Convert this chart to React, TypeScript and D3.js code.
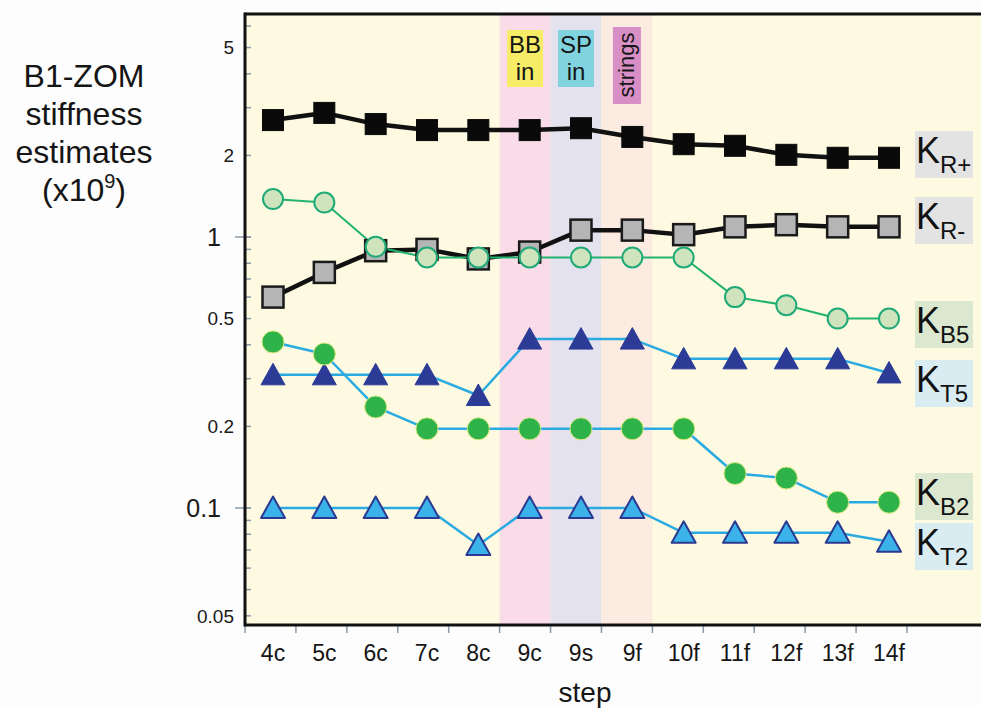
import React, { useEffect } from 'react';
import * as d3 from 'd3';

// steps along the x axis
const steps = ['4c', '5c', '6c', '7c', '8c', '9c', '9s', '9f', '10f', '11f', '12f', '13f', '14f'];

// stiffness estimates (x10^9)
const kRplus = [2.70, 2.87, 2.61, 2.48, 2.48, 2.48, 2.52, 2.34, 2.20, 2.17, 2.01, 1.96, 1.96];
const kRminus = [0.60, 0.74, 0.89, 0.90, 0.83, 0.88, 1.06, 1.06, 1.02, 1.09, 1.11, 1.09, 1.09];
const kB5 = [1.38, 1.34, 0.92, 0.84, 0.84, 0.84, 0.84, 0.84, 0.84, 0.60, 0.56, 0.50, 0.50];
const kT5 = [0.31, 0.31, 0.31, 0.31, 0.26, 0.42, 0.42, 0.42, 0.355, 0.355, 0.355, 0.355, 0.315];
const kB2 = [0.41, 0.37, 0.236, 0.196, 0.196, 0.196, 0.196, 0.196, 0.196, 0.134, 0.129, 0.105, 0.105];
const kT2 = [0.10, 0.10, 0.10, 0.10, 0.073, 0.10, 0.10, 0.10, 0.081, 0.081, 0.081, 0.081, 0.075];

// y tick labels (the original prints "0.05" beside its lowest tick)
const yTickValues = [5, 2, 1, 0.5, 0.2, 0.1, 0.04];
const yTickText = ['5', '2', '1', '0.5', '0.2', '0.1', '0.05'];
const yMinorTicks = [0.04, 0.05, 0.06, 0.07, 0.08, 0.09, 0.1, 0.2, 0.3, 0.4, 0.5, 0.6, 0.7, 0.8, 0.9, 1, 2, 3, 4, 5, 6];

// shaded steps and their tags
const bandSteps = ['9c', '9s', '9f'];
const bandTags = ['BB\nin', 'SP\nin', 'strings'];

const FONT = '"Liberation Sans", Arial, Helvetica, sans-serif';

const App = () => {
  useEffect(() => {
    const width = 981;
    const height = 708;
    const plot = { left: 245, top: 14, right: 907, bottom: 625 };

    d3.select('#chart svg').remove();

    const svg = d3.select('#chart')
      .append('svg')
      .attr('width', width)
      .attr('height', height)
      .style('position', 'absolute')
      .style('left', '0px')
      .style('top', '0px')
      .style('background', '#fdfdfd')
      .style('font-family', FONT);

    const xBand = d3.scaleBand().domain(steps).range([plot.left, plot.right]);
    const x = d3.scalePoint().domain(steps).range([273, 889]);
    const y = d3.scaleLog().domain([0.037, 6.65]).range([plot.bottom, plot.top]);

    // plot background
    svg.append('rect')
      .attr('x', plot.left).attr('y', plot.top)
      .attr('width', width - plot.left + 10).attr('height', plot.bottom - plot.top)
      .attr('fill', '#fdfae1');

    // shaded bands
    const bandColors = ['#f9dce8', '#e4e2ee', '#fcebe0'];
    svg.selectAll('rect.band')
      .data(bandSteps)
      .enter()
      .append('rect')
      .attr('class', 'band')
      .attr('x', d => xBand(d))
      .attr('y', plot.top)
      .attr('width', xBand.bandwidth())
      .attr('height', plot.bottom - plot.top)
      .attr('fill', (d, i) => bandColors[i]);

    // band tags
    const tagColors = ['#f6ec66', '#80d3df', '#d88fc5'];
    bandSteps.forEach((s, i) => {
      const cx = xBand(s) + xBand.bandwidth() / 2;
      if (i < 2) {
        svg.append('rect')
          .attr('x', cx - 18).attr('y', 30)
          .attr('width', 36).attr('height', 57)
          .attr('fill', tagColors[i]);
        const lines = bandTags[i].split('\n');
        lines.forEach((t, j) => {
          svg.append('text')
            .attr('x', cx).attr('y', 53 + j * 27)
            .attr('text-anchor', 'middle')
            .style('font-size', '24px')
            .attr('fill', '#151515')
            .text(t);
        });
      } else {
        svg.append('rect')
          .attr('x', cx - 14).attr('y', 27)
          .attr('width', 28).attr('height', 77)
          .attr('fill', tagColors[i]);
        svg.append('text')
          .attr('transform', `translate(${cx + 7}, 65) rotate(-90)`)
          .attr('text-anchor', 'middle')
          .style('font-size', '22px')
          .attr('fill', '#151515')
          .text(bandTags[i]);
      }
    });

    // y minor ticks
    svg.selectAll('line.ytick')
      .data(yMinorTicks)
      .enter()
      .append('line')
      .attr('x1', plot.left).attr('x2', plot.left + 6)
      .attr('y1', d => y(d)).attr('y2', d => y(d))
      .attr('stroke', '#8a9aa8').attr('stroke-width', 1.5);

    // y tick labels
    yTickValues.forEach((v, i) => {
      const big = yTickText[i] === '1' || yTickText[i] === '0.1';
      if (big) {
        svg.append('line')
          .attr('x1', plot.left - 10).attr('x2', plot.left + 6)
          .attr('y1', y(v)).attr('y2', y(v))
          .attr('stroke', '#8a9aa8').attr('stroke-width', 1.5);
      }
      svg.append('text')
        .attr('x', big ? 221 : 234)
        .attr('y', y(v))
        .attr('dy', '0.36em')
        .attr('text-anchor', 'end')
        .style('font-size', big ? '25px' : '19px')
        .attr('fill', '#1a1a1a')
        .text(yTickText[i]);
    });

    // x ticks
    const boundaries = steps.map(s => xBand(s)).concat([plot.right]);
    svg.selectAll('line.xtick')
      .data(boundaries)
      .enter()
      .append('line')
      .attr('x1', d => d).attr('x2', d => d)
      .attr('y1', plot.bottom).attr('y2', plot.bottom + 8)
      .attr('stroke', '#8a9aa8').attr('stroke-width', 1.5);

    svg.selectAll('text.xlabel')
      .data(steps)
      .enter()
      .append('text')
      .attr('x', d => x(d))
      .attr('y', 661)
      .attr('text-anchor', 'middle')
      .style('font-size', '23px')
      .attr('fill', '#151515')
      .text(d => d);

    // frame
    svg.append('line')
      .attr('x1', plot.left).attr('x2', width + 5)
      .attr('y1', plot.top).attr('y2', plot.top)
      .attr('stroke', '#111').attr('stroke-width', 3);
    svg.append('line')
      .attr('x1', plot.left).attr('x2', width + 5)
      .attr('y1', plot.bottom).attr('y2', plot.bottom)
      .attr('stroke', '#111').attr('stroke-width', 3);
    svg.append('line')
      .attr('x1', plot.left).attr('x2', plot.left)
      .attr('y1', plot.top - 1.5).attr('y2', plot.bottom + 1.5)
      .attr('stroke', '#111').attr('stroke-width', 3);

    // series
    const series = [
      { values: kRplus, line: '#111', lw: 4.5, shape: 'square', fill: '#0a0a0a', stroke: '#0a0a0a', sw: 1 },
      { values: kRminus, line: '#111', lw: 4.5, shape: 'square', fill: '#b5b5b5', stroke: '#1a1a1a', sw: 2.5 },
      { values: kT5, line: '#29abe2', lw: 2.5, shape: 'triangle', fill: '#2c3b96', stroke: '#2c3b96', sw: 1 },
      { values: kT2, line: '#29abe2', lw: 2.5, shape: 'triangle', fill: '#3bb3ea', stroke: '#2b3990', sw: 2 },
      { values: kB5, line: '#22b36f', lw: 2, shape: 'circle', fill: '#cfe4bc', stroke: '#1faa78', sw: 2 },
      { values: kB2, line: '#29abe2', lw: 2.5, shape: 'circle', fill: '#2eb34b', stroke: '#d8e87c', sw: 1 },
    ];

    const line = d3.line<number>()
      .x((d, i) => x(steps[i]))
      .y(d => y(d));

    series.forEach(s => {
      svg.append('path')
        .datum(s.values)
        .attr('fill', 'none')
        .attr('stroke', s.line)
        .attr('stroke-width', s.lw)
        .attr('stroke-linejoin', 'round')
        .attr('d', line);
    });

    series.forEach(s => {
      const g = svg.append('g');
      s.values.forEach((v, i) => {
        const cx = x(steps[i]);
        const cy = y(v);
        if (s.shape === 'square') {
          g.append('rect')
            .attr('x', cx - 10.5).attr('y', cy - 10.5)
            .attr('width', 21).attr('height', 21)
            .attr('fill', s.fill).attr('stroke', s.stroke).attr('stroke-width', s.sw);
        } else if (s.shape === 'circle') {
          g.append('circle')
            .attr('cx', cx).attr('cy', cy).attr('r', s.fill === '#2eb34b' ? 11 : 10)
            .attr('fill', s.fill).attr('stroke', s.stroke).attr('stroke-width', s.sw);
        } else {
          g.append('path')
            .attr('d', `M${cx},${cy - 11.5}L${cx + 12},${cy + 10}L${cx - 12},${cy + 10}Z`)
            .attr('fill', s.fill).attr('stroke', s.stroke).attr('stroke-width', s.sw)
            .attr('stroke-linejoin', 'round');
        }
      });
    });

    // series labels
    const labelSubs = ['R+', 'R-', 'B5', 'T5', 'B2', 'T2'];
    const labelBase = [163, 229, 333, 392, 505, 555];
    const labelBg = ['#e3e3e3', '#e3e3e3', '#dbe8cf', '#d9ecf1', '#dbe8cf', '#d9ecf1'];
    labelSubs.forEach((sub, i) => {
      svg.append('rect')
        .attr('x', 915).attr('y', labelBase[i] - 32)
        .attr('width', 58).attr('height', 47)
        .attr('fill', labelBg[i]);
      const t = svg.append('text')
        .attr('x', 916).attr('y', labelBase[i])
        .attr('fill', '#111');
      t.append('tspan').style('font-size', '36px').text('K');
      t.append('tspan').style('font-size', '24px').attr('dy', 10).text(sub);
    });

    // y axis title
    const titleLines = ['B1-ZOM', 'stiffness', 'estimates'];
    titleLines.forEach((t, i) => {
      svg.append('text')
        .attr('x', 84).attr('y', 87 + i * 38)
        .attr('text-anchor', 'middle')
        .style('font-size', '32px')
        .attr('fill', '#151515')
        .text(t);
    });
    const unit = svg.append('text')
      .attr('x', 84).attr('y', 201)
      .attr('text-anchor', 'middle')
      .style('font-size', '32px')
      .attr('fill', '#151515');
    unit.append('tspan').text('(x10');
    unit.append('tspan').style('font-size', '20px').attr('dy', -13).text('9');
    unit.append('tspan').attr('dy', 13).text(')');

    // x axis title
    svg.append('text')
      .attr('x', 585).attr('y', 702)
      .attr('text-anchor', 'middle')
      .style('font-size', '28px')
      .attr('fill', '#151515')
      .text('step');
  }, []);

  return (
    <div id="chart" style={{ width: '981px', height: '708px' }}></div>
  );
};

export default App;
